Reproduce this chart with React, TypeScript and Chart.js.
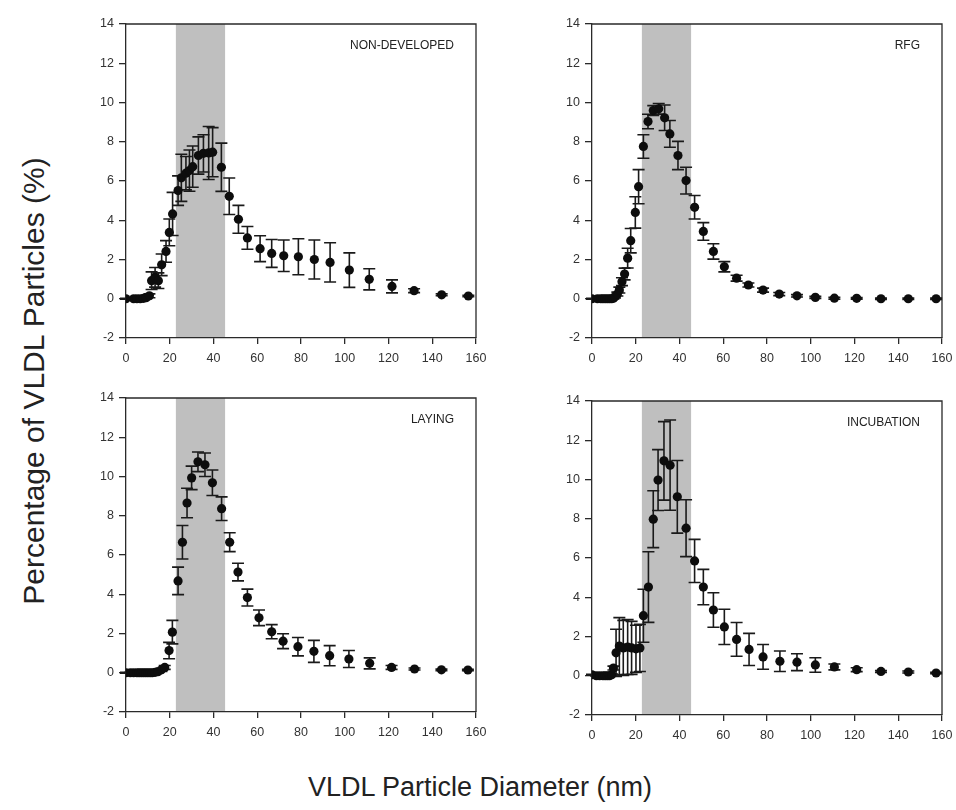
import React, { useEffect, useRef } from "react";
import { Chart, registerables } from "chart.js";

Chart.register(...registerables);

// ---------- data ----------
const X_MIN = 0;
const X_MAX = 160;
const X_STEP = 20;
const Y_MIN = -2;
const Y_MAX = 14;
const Y_STEP = 2;
const SHADE_RANGE = [22.8, 45.3];

const ndLabel = "NON-DEVELOPED";
const ndX = [0, 3.5, 5, 6.5, 8, 9.2, 10.7, 11.7, 13.3, 14.8, 16.3, 18.3, 19.8, 21.3, 23.8, 25.3, 27.4, 29.0, 30.5, 33.1, 35.4, 37.8, 39.6, 43.6, 47.2, 51.4, 55.5, 61.3, 66.6, 72.1, 78.8, 86.1, 93.3, 102.1, 111.2, 121.6, 131.7, 144.3, 156.5];
const ndY = [0, 0, 0, 0, 0.02, 0.05, 0.15, 0.92, 1.09, 0.92, 1.73, 2.41, 3.38, 4.32, 5.51, 6.16, 6.4, 6.53, 6.73, 7.3, 7.41, 7.43, 7.47, 6.7, 5.22, 4.05, 3.1, 2.55, 2.31, 2.19, 2.14, 2.0, 1.85, 1.46, 0.99, 0.63, 0.41, 0.2, 0.14];
const ndErr = [0.02, 0.02, 0.02, 0.02, 0.03, 0.05, 0.1, 0.45, 0.5, 0.4, 0.55, 0.55, 0.68, 1.1, 0.75, 1.2, 0.85, 1.05, 1.05, 0.95, 0.95, 1.35, 1.25, 1.23, 0.93, 0.71, 0.58, 0.66, 0.71, 0.8, 0.92, 0.99, 1.0, 0.88, 0.54, 0.33, 0.1, 0.05, 0.03];

const rfgLabel = "RFG";
const rfgX = [0, 2.5, 4, 5, 6, 7, 8, 9, 9.8, 10.5, 11.6, 12.5, 13.7, 14.9, 16.3, 17.7, 19.8, 21.3, 23.5, 25.6, 28.0, 30.5, 33.2, 35.6, 39.3, 43.0, 46.9, 50.9, 55.5, 60.5, 66.1, 71.5, 78.2, 85.6, 93.7, 102.1, 110.8, 121.0, 132.1, 144.6, 157.3];
const rfgY = [0, 0, 0, 0, 0, 0, 0, 0, 0.03, 0.1, 0.24, 0.44, 0.87, 1.26, 2.07, 2.96, 4.40, 5.71, 7.76, 9.03, 9.59, 9.68, 9.22, 8.40, 7.30, 6.02, 4.66, 3.43, 2.41, 1.63, 1.05, 0.70, 0.44, 0.24, 0.15, 0.07, 0.03, 0.02, 0, 0, 0];
const rfgErr = [0.02, 0.02, 0.02, 0.02, 0.02, 0.02, 0.02, 0.02, 0.04, 0.06, 0.1, 0.15, 0.2, 0.3, 0.5, 0.62, 0.8, 0.87, 0.6, 0.37, 0.25, 0.27, 0.65, 0.68, 0.72, 0.68, 0.6, 0.45, 0.39, 0.26, 0.15, 0.1, 0.1, 0.08, 0.06, 0.05, 0.05, 0.04, 0.03, 0.03, 0.03];

const layLabel = "LAYING";
const layX = [0, 2, 3.5, 5, 6, 7, 8, 9, 10, 11, 12, 13.3, 14.6, 16.2, 17.7, 19.7, 21.2, 23.8, 25.8, 27.9, 30.0, 32.9, 36.1, 39.5, 43.7, 47.4, 51.2, 55.5, 60.8, 66.6, 71.8, 78.6, 85.9, 93.1, 101.9, 111.4, 121.4, 131.9, 144.2, 156.3];
const layY = [0, 0, 0, 0, 0, 0, 0, 0, 0, 0, 0, 0.02, 0.05, 0.15, 0.27, 1.13, 2.07, 4.68, 6.65, 8.65, 9.93, 10.75, 10.6, 9.68, 8.36, 6.65, 5.13, 3.83, 2.8, 2.09, 1.61, 1.33, 1.09, 0.87, 0.7, 0.48, 0.27, 0.19, 0.15, 0.14];
const layErr = [0.02, 0.02, 0.02, 0.02, 0.02, 0.02, 0.02, 0.02, 0.02, 0.02, 0.02, 0.03, 0.05, 0.08, 0.1, 0.42, 0.6, 0.7, 0.85, 0.75, 0.6, 0.5, 0.6, 0.65, 0.6, 0.48, 0.45, 0.43, 0.4, 0.36, 0.38, 0.47, 0.56, 0.51, 0.43, 0.28, 0.1, 0.05, 0.04, 0.03];

const incLabel = "INCUBATION";
const incX = [0, 2, 3.5, 5, 6, 7, 8, 9, 9.8, 11.0, 12.5, 14.3, 16.3, 18.1, 20.1, 21.9, 23.5, 25.8, 28.0, 30.2, 32.9, 35.7, 39.0, 43.0, 46.9, 50.9, 55.5, 60.5, 66.1, 71.8, 78.2, 85.9, 93.7, 102.1, 110.8, 121.0, 132.1, 144.6, 157.3];
const incY = [0.05, 0, 0, 0, 0, 0, 0, 0.05, 0.39, 1.17, 1.51, 1.42, 1.46, 1.42, 1.37, 1.42, 3.06, 4.52, 7.98, 9.97, 10.95, 10.73, 9.12, 7.52, 5.85, 4.52, 3.35, 2.49, 1.85, 1.34, 0.96, 0.74, 0.69, 0.55, 0.45, 0.31, 0.22, 0.19, 0.14];
const incErr = [0.02, 0.02, 0.02, 0.02, 0.02, 0.02, 0.02, 0.05, 0.1, 1.2, 1.45, 1.4, 1.4, 1.35, 1.2, 1.2, 1.35, 1.8, 1.45, 1.55, 2.0, 2.3, 1.85, 1.45, 1.1, 0.9, 0.88, 0.9, 0.86, 0.82, 0.63, 0.52, 0.43, 0.37, 0.15, 0.1, 0.05, 0.05, 0.04];

const yTitle = "Percentage of VLDL Particles (%)";
const xTitle = "VLDL Particle Diameter (nm)";

// ---------- styles ----------
const FONT = "'Liberation Sans', Arial, Helvetica, sans-serif";
const AXIS_COLOR = "#2a2a2a";
const TEXT_COLOR = "#333333";
const SHADE_COLOR = "#bfbfbf";
const POINT_COLOR = "#0d0d0d";

const PAD_TOP = 14;
const PAD_RIGHT = 20;
const Y_AXIS_W = 40;
const X_AXIS_H = 34;
const PLOT_W = 350;
const PLOT_H = 314;
const CANVAS_W = Y_AXIS_W + PLOT_W + PAD_RIGHT;
const CANVAS_H = PAD_TOP + PLOT_H + X_AXIS_H;

type PanelProps = {
  label: string;
  xs: number[];
  ys: number[];
  errs: number[];
  left: number;
  top: number;
};

function PanelChart({ label, xs, ys, errs, left, top }: PanelProps) {
  const ref = useRef<HTMLCanvasElement | null>(null);

  useEffect(() => {
    const canvas = ref.current;
    if (!canvas) return;

    const backdrop = {
      id: "backdrop",
      beforeDraw(chart: any) {
        const { ctx, chartArea, scales } = chart;
        const xs0 = scales.x.getPixelForValue(SHADE_RANGE[0]);
        const xs1 = scales.x.getPixelForValue(SHADE_RANGE[1]);
        ctx.save();
        ctx.fillStyle = SHADE_COLOR;
        ctx.fillRect(xs0, chartArea.top, xs1 - xs0, chartArea.bottom - chartArea.top);
        ctx.strokeStyle = AXIS_COLOR;
        ctx.lineWidth = 1.3;
        ctx.beginPath();
        ctx.moveTo(chartArea.left, chartArea.top);
        ctx.lineTo(chartArea.right, chartArea.top);
        ctx.lineTo(chartArea.right, chartArea.bottom);
        ctx.stroke();
        ctx.restore();
      },
      afterDraw(chart: any) {
        const { ctx, chartArea } = chart;
        ctx.save();
        ctx.fillStyle = "#222";
        ctx.font = `12px ${FONT}`;
        ctx.textAlign = "right";
        ctx.textBaseline = "middle";
        ctx.fillText(label, chartArea.right - 22, chartArea.top + 22);
        ctx.restore();
      },
    };

    const errorBars = {
      id: "errorBars",
      beforeDatasetsDraw(chart: any) {
        const { ctx, scales } = chart;
        ctx.save();
        ctx.strokeStyle = "#1a1a1a";
        ctx.lineWidth = 1.6;
        const cap = 6;
        for (let i = 0; i < xs.length; i++) {
          const px = scales.x.getPixelForValue(xs[i]);
          const yTop = scales.y.getPixelForValue(ys[i] + errs[i]);
          const yBot = scales.y.getPixelForValue(ys[i] - errs[i]);
          ctx.beginPath();
          ctx.moveTo(px, yTop);
          ctx.lineTo(px, yBot);
          ctx.moveTo(px - cap, yTop);
          ctx.lineTo(px + cap, yTop);
          ctx.moveTo(px - cap, yBot);
          ctx.lineTo(px + cap, yBot);
          ctx.stroke();
        }
        ctx.restore();
      },
    };

    const tickFont = { family: FONT, size: 12.5 };

    const chart = new Chart(canvas, {
      type: "scatter",
      data: {
        datasets: [
          {
            data: xs.map((x, i) => ({ x, y: ys[i] })),
            pointRadius: 4.6,
            pointBackgroundColor: POINT_COLOR,
            pointBorderColor: POINT_COLOR,
            pointBorderWidth: 0,
            showLine: false,
          },
        ],
      },
      options: {
        animation: false,
        responsive: false,
        maintainAspectRatio: false,
        devicePixelRatio: 1,
        events: [],
        layout: { padding: { top: PAD_TOP, right: PAD_RIGHT, left: 0, bottom: 0 } },
        plugins: {
          legend: { display: false },
          tooltip: { enabled: false },
          title: { display: false },
        },
        scales: {
          x: {
            type: "linear",
            min: X_MIN,
            max: X_MAX,
            ticks: {
              stepSize: X_STEP,
              font: tickFont,
              color: TEXT_COLOR,
              padding: 7,
              maxRotation: 0,
            },
            grid: {
              drawOnChartArea: false,
              drawTicks: true,
              tickLength: 6,
              color: AXIS_COLOR,
              lineWidth: 1.3,
            },
            border: { display: true, color: AXIS_COLOR, width: 1.3 },
            afterFit: (s: any) => {
              s.height = X_AXIS_H;
            },
          },
          y: {
            type: "linear",
            min: Y_MIN,
            max: Y_MAX,
            ticks: {
              stepSize: Y_STEP,
              font: tickFont,
              color: TEXT_COLOR,
              padding: 5,
            },
            grid: {
              drawOnChartArea: false,
              drawTicks: true,
              tickLength: 7,
              color: AXIS_COLOR,
              lineWidth: 1.3,
            },
            border: { display: true, color: AXIS_COLOR, width: 1.3 },
            afterFit: (s: any) => {
              s.width = Y_AXIS_W;
            },
          },
        },
      } as any,
      plugins: [backdrop, errorBars],
    });

    return () => chart.destroy();
  }, [label, xs, ys, errs]);

  return (
    <canvas
      ref={ref}
      width={CANVAS_W}
      height={CANVAS_H}
      style={{ position: "absolute", left, top, width: CANVAS_W, height: CANVAS_H }}
    />
  );
}

export default function App() {
  return (
    <div
      style={{
        position: "absolute",
        left: 0,
        top: 0,
        width: 956,
        height: 810,
        background: "#ffffff",
        overflow: "hidden",
        fontFamily: FONT,
      }}
    >
      <PanelChart label={ndLabel} xs={ndX} ys={ndY} errs={ndErr} left={86} top={10} />
      <PanelChart label={rfgLabel} xs={rfgX} ys={rfgY} errs={rfgErr} left={552} top={10} />
      <PanelChart label={layLabel} xs={layX} ys={layY} errs={layErr} left={86} top={384} />
      <PanelChart label={incLabel} xs={incX} ys={incY} errs={incErr} left={552} top={387} />
      <div
        style={{
          position: "absolute",
          left: 34,
          top: 381,
          transform: "translate(-50%, -50%) rotate(-90deg)",
          whiteSpace: "nowrap",
          fontSize: 30,
          color: "#222",
          lineHeight: 1,
        }}
      >
        {yTitle}
      </div>
      <div
        style={{
          position: "absolute",
          left: 480,
          top: 787,
          transform: "translate(-50%, -50%)",
          whiteSpace: "nowrap",
          fontSize: 27,
          color: "#222",
          lineHeight: 1,
        }}
      >
        {xTitle}
      </div>
    </div>
  );
}
